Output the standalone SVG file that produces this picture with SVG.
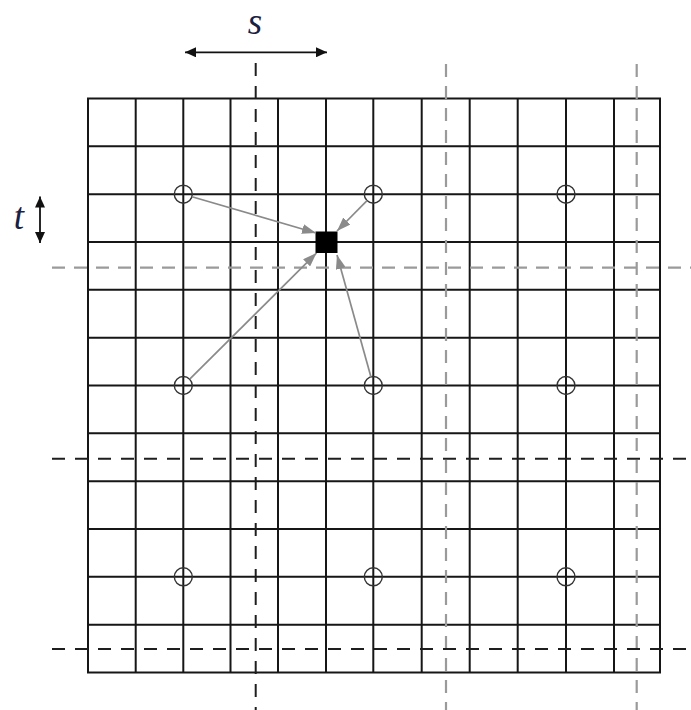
<svg xmlns="http://www.w3.org/2000/svg" width="691" height="710" viewBox="0 0 691 710">
  <style>
    .grid { stroke: #161616; stroke-width: 2; fill: none; }
    .dashK { stroke: #1e1e1e; stroke-width: 2; stroke-dasharray: 13 10; fill: none; }
    .dashG { stroke: #9a9a9a; stroke-width: 2.2; stroke-dasharray: 13 9; fill: none; }
    .pt { stroke: #333; stroke-width: 1.4; fill: none; }
    .conn { stroke: #8a8a8a; stroke-width: 1.7; fill: none; marker-end: url(#ga); }
    .dim { stroke: #111; stroke-width: 1.8; fill: none; marker-start: url(#ka); marker-end: url(#ka); }
    .lbl { font-family: "Liberation Serif", "Times New Roman", serif; font-style: italic; font-size: 37px; fill: #1a2040; }
  </style>
  <defs>
    <marker id="ga" markerUnits="userSpaceOnUse" markerWidth="15" markerHeight="10" refX="14" refY="5" orient="auto">
      <path d="M0,0 L14,5 L0,10 z" fill="#8a8a8a"/>
    </marker>
    <marker id="ka" markerUnits="userSpaceOnUse" markerWidth="12" markerHeight="10" refX="11" refY="5" orient="auto-start-reverse">
      <path d="M0,0 L11,5 L0,10 z" fill="#111"/>
    </marker>
  </defs>
  <rect width="691" height="710" fill="#fff"/>

  <g id="grid" class="grid">
    <rect x="88" y="98.5" width="572" height="574"/>
    <path d="M135.7,98.5V672.5 M183.3,98.5V672.5 M230.5,98.5V672.5 M278,98.5V672.5 M326,98.5V672.5 M373.3,98.5V672.5 M421.7,98.5V672.5 M469.7,98.5V672.5 M517.7,98.5V672.5 M566,98.5V672.5 M614,98.5V672.5"/>
    <path d="M88,146.3H660 M88,194.2H660 M88,242H660 M88,289.8H660 M88,337.7H660 M88,385.5H660 M88,433.3H660 M88,481.2H660 M88,529H660 M88,576.8H660 M88,624.7H660"/>
  </g>

  <g id="partitions">
    <path class="dashK" stroke-dasharray="3 17 14 8" d="M255.7,63V710"/>
    <path class="dashG" d="M446,64V710"/>
    <path class="dashG" d="M636.7,64V710"/>
    <path class="dashG" d="M52,267.7H691"/>
    <path class="dashK" d="M52,458.7H691"/>
    <path class="dashK" d="M52,649H691"/>
  </g>

  <g id="points" class="pt">
    <circle id="p11" cx="183.3" cy="194.2" r="9"/>
    <circle id="p12" cx="373.3" cy="194.2" r="9"/>
    <circle id="p13" cx="566" cy="194.2" r="9"/>
    <circle id="p21" cx="183.3" cy="385.5" r="9"/>
    <circle id="p22" cx="373.3" cy="385.5" r="9"/>
    <circle id="p23" cx="566" cy="385.5" r="9"/>
    <circle id="p31" cx="183.3" cy="576.8" r="9"/>
    <circle id="p32" cx="373.3" cy="576.8" r="9"/>
    <circle id="p33" cx="566" cy="576.8" r="9"/>
  </g>

  <g id="target">
    <rect x="315.5" y="231.5" width="22" height="21.5" fill="#000"/>
  </g>

  <g id="connectors">
    <line class="conn" x1="192" y1="196.7" x2="316" y2="233"/>
    <line class="conn" x1="367" y1="200.6" x2="337" y2="231"/>
    <line class="conn" x1="189.7" y1="379.2" x2="316.5" y2="253"/>
    <line class="conn" x1="370.9" y1="376.8" x2="337" y2="255"/>
  </g>

  <g id="label-s">
    <line class="dim" x1="185" y1="52.3" x2="327" y2="52.3"/>
    <text class="lbl" x="255" y="34" text-anchor="middle">s</text>
  </g>
  <g id="label-t">
    <line class="dim" x1="40" y1="196.5" x2="40" y2="243"/>
    <text class="lbl" x="19" y="229" text-anchor="middle">t</text>
  </g>
</svg>
